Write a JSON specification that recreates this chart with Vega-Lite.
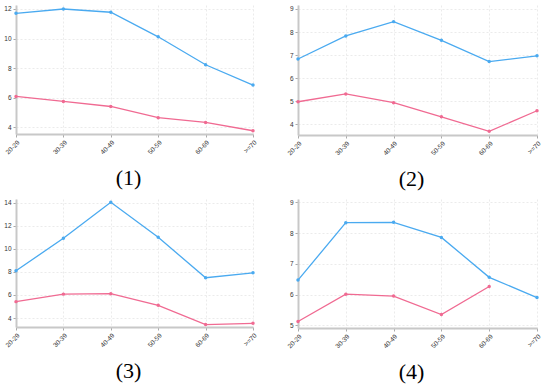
{
  "$schema": "https://vega.github.io/schema/vega-lite/v6.json",
  "padding": {"left": 3, "top": 5, "right": 5, "bottom": 0},
  "background": "white",
  "spacing": {"row": 8, "column": 28},
  "datasets": {
    "d": [
      {"panel": 1, "age": "20-29", "grp": "A", "v": 11.71},
      {"panel": 1, "age": "30-39", "grp": "A", "v": 12.0},
      {"panel": 1, "age": "40-49", "grp": "A", "v": 11.78},
      {"panel": 1, "age": "50-59", "grp": "A", "v": 10.12},
      {"panel": 1, "age": "60-69", "grp": "A", "v": 8.23},
      {"panel": 1, "age": ">=70", "grp": "A", "v": 6.86},
      {"panel": 1, "age": "20-29", "grp": "B", "v": 6.09},
      {"panel": 1, "age": "30-39", "grp": "B", "v": 5.75},
      {"panel": 1, "age": "40-49", "grp": "B", "v": 5.41},
      {"panel": 1, "age": "50-59", "grp": "B", "v": 4.65},
      {"panel": 1, "age": "60-69", "grp": "B", "v": 4.33},
      {"panel": 1, "age": ">=70", "grp": "B", "v": 3.77},
      {"panel": 2, "age": "20-29", "grp": "A", "v": 6.83},
      {"panel": 2, "age": "30-39", "grp": "A", "v": 7.83},
      {"panel": 2, "age": "40-49", "grp": "A", "v": 8.45},
      {"panel": 2, "age": "50-59", "grp": "A", "v": 7.64},
      {"panel": 2, "age": "60-69", "grp": "A", "v": 6.72},
      {"panel": 2, "age": ">=70", "grp": "A", "v": 6.97},
      {"panel": 2, "age": "20-29", "grp": "B", "v": 4.98},
      {"panel": 2, "age": "30-39", "grp": "B", "v": 5.32},
      {"panel": 2, "age": "40-49", "grp": "B", "v": 4.94},
      {"panel": 2, "age": "50-59", "grp": "B", "v": 4.33},
      {"panel": 2, "age": "60-69", "grp": "B", "v": 3.7},
      {"panel": 2, "age": ">=70", "grp": "B", "v": 4.59},
      {"panel": 3, "age": "20-29", "grp": "A", "v": 8.1},
      {"panel": 3, "age": "30-39", "grp": "A", "v": 10.91},
      {"panel": 3, "age": "40-49", "grp": "A", "v": 14.03},
      {"panel": 3, "age": "50-59", "grp": "A", "v": 11.0},
      {"panel": 3, "age": "60-69", "grp": "A", "v": 7.49},
      {"panel": 3, "age": ">=70", "grp": "A", "v": 7.92},
      {"panel": 3, "age": "20-29", "grp": "B", "v": 5.42},
      {"panel": 3, "age": "30-39", "grp": "B", "v": 6.07},
      {"panel": 3, "age": "40-49", "grp": "B", "v": 6.11},
      {"panel": 3, "age": "50-59", "grp": "B", "v": 5.1},
      {"panel": 3, "age": "60-69", "grp": "B", "v": 3.43},
      {"panel": 3, "age": ">=70", "grp": "B", "v": 3.54},
      {"panel": 4, "age": "20-29", "grp": "A", "v": 6.47},
      {"panel": 4, "age": "30-39", "grp": "A", "v": 8.34},
      {"panel": 4, "age": "40-49", "grp": "A", "v": 8.35},
      {"panel": 4, "age": "50-59", "grp": "A", "v": 7.86},
      {"panel": 4, "age": "60-69", "grp": "A", "v": 6.56},
      {"panel": 4, "age": ">=70", "grp": "A", "v": 5.9},
      {"panel": 4, "age": "20-29", "grp": "B", "v": 5.12},
      {"panel": 4, "age": "30-39", "grp": "B", "v": 6.01},
      {"panel": 4, "age": "40-49", "grp": "B", "v": 5.95},
      {"panel": 4, "age": "50-59", "grp": "B", "v": 5.35},
      {"panel": 4, "age": "60-69", "grp": "B", "v": 6.26}
    ]
  },
  "config": {
    "view": {"stroke": null},
    "axis": {
      "labelFont": "Liberation Sans",
      "labelFontSize": 6.5,
      "labelColor": "#333333",
      "domainColor": "#c8c8c8",
      "domainWidth": 2,
      "tickColor": "#aaaaaa",
      "tickSize": 3,
      "gridColor": "#e6e6e6",
      "gridDash": [2, 2],
      "gridWidth": 0.8,
      "title": null,
      "labelPadding": 2
    },
    "title": {
      "orient": "bottom",
      "font": "Liberation Serif",
      "fontSize": 22,
      "fontWeight": "normal",
      "color": "#000000",
      "anchor": "middle",
      "offset": 13,
      "dx": -6
    }
  },
  "columns": 2,
  "concat": [
    {
      "title": "(1)",
      "width": 237, "height": 129,
      "data": {"name": "d"},
      "transform": [{"filter": "datum.panel == 1"}],
      "encoding": {
        "x": {"field": "age", "type": "ordinal", "sort": ["20-29","30-39","40-49","50-59","60-69",">=70"], "scale": {"type": "point", "padding": 0}, "axis": {"labelAngle": -45, "grid": true}},
        "y": {"field": "v", "type": "quantitative", "scale": {"domain": [3.55, 12.27], "nice": false, "zero": false}, "axis": {"values": [4, 6, 8, 10, 12], "grid": true}},
        "color": {"field": "grp", "type": "nominal", "legend": null, "scale": {"domain": ["A", "B"], "range": ["#4aaaf0", "#f06a92"]}}
      },
      "layer": [
        {"mark": {"type": "line", "strokeWidth": 1.3}},
        {"mark": {"type": "point", "filled": true, "size": 12, "opacity": 1}, "encoding": {"color": {"field": "grp", "type": "nominal", "legend": null, "scale": {"domain": ["A", "B"], "range": ["#1a82e8", "#e8145a"]}}}}
      ]
    },
    {
      "title": "(2)",
      "width": 239, "height": 130,
      "data": {"name": "d"},
      "transform": [{"filter": "datum.panel == 2"}],
      "encoding": {
        "x": {"field": "age", "type": "ordinal", "sort": ["20-29","30-39","40-49","50-59","60-69",">=70"], "scale": {"type": "point", "padding": 0}, "axis": {"labelAngle": -45, "grid": true}},
        "y": {"field": "v", "type": "quantitative", "scale": {"domain": [3.54, 9.17], "nice": false, "zero": false}, "axis": {"values": [4, 5, 6, 7, 8, 9], "grid": true}},
        "color": {"field": "grp", "type": "nominal", "legend": null, "scale": {"domain": ["A", "B"], "range": ["#4aaaf0", "#f06a92"]}}
      },
      "layer": [
        {"mark": {"type": "line", "strokeWidth": 1.3}},
        {"mark": {"type": "point", "filled": true, "size": 12, "opacity": 1}, "encoding": {"color": {"field": "grp", "type": "nominal", "legend": null, "scale": {"domain": ["A", "B"], "range": ["#1a82e8", "#e8145a"]}}}}
      ]
    },
    {
      "title": "(3)",
      "width": 237, "height": 128,
      "data": {"name": "d"},
      "transform": [{"filter": "datum.panel == 3"}],
      "encoding": {
        "x": {"field": "age", "type": "ordinal", "sort": ["20-29","30-39","40-49","50-59","60-69",">=70"], "scale": {"type": "point", "padding": 0}, "axis": {"labelAngle": -45, "grid": true}},
        "y": {"field": "v", "type": "quantitative", "scale": {"domain": [3.22, 14.32], "nice": false, "zero": false}, "axis": {"values": [4, 6, 8, 10, 12, 14], "grid": true}},
        "color": {"field": "grp", "type": "nominal", "legend": null, "scale": {"domain": ["A", "B"], "range": ["#4aaaf0", "#f06a92"]}}
      },
      "layer": [
        {"mark": {"type": "line", "strokeWidth": 1.3}},
        {"mark": {"type": "point", "filled": true, "size": 12, "opacity": 1}, "encoding": {"color": {"field": "grp", "type": "nominal", "legend": null, "scale": {"domain": ["A", "B"], "range": ["#1a82e8", "#e8145a"]}}}}
      ]
    },
    {
      "title": "(4)",
      "width": 239, "height": 129,
      "data": {"name": "d"},
      "transform": [{"filter": "datum.panel == 4"}],
      "encoding": {
        "x": {"field": "age", "type": "ordinal", "sort": ["20-29","30-39","40-49","50-59","60-69",">=70"], "scale": {"type": "point", "padding": 0, "domain": ["20-29","30-39","40-49","50-59","60-69",">=70"]}, "axis": {"labelAngle": -45, "grid": true}},
        "y": {"field": "v", "type": "quantitative", "scale": {"domain": [4.91, 9.11], "nice": false, "zero": false}, "axis": {"values": [5, 6, 7, 8, 9], "grid": true}},
        "color": {"field": "grp", "type": "nominal", "legend": null, "scale": {"domain": ["A", "B"], "range": ["#4aaaf0", "#f06a92"]}}
      },
      "layer": [
        {"mark": {"type": "line", "strokeWidth": 1.3}},
        {"mark": {"type": "point", "filled": true, "size": 12, "opacity": 1}, "encoding": {"color": {"field": "grp", "type": "nominal", "legend": null, "scale": {"domain": ["A", "B"], "range": ["#1a82e8", "#e8145a"]}}}}
      ]
    }
  ]
}
